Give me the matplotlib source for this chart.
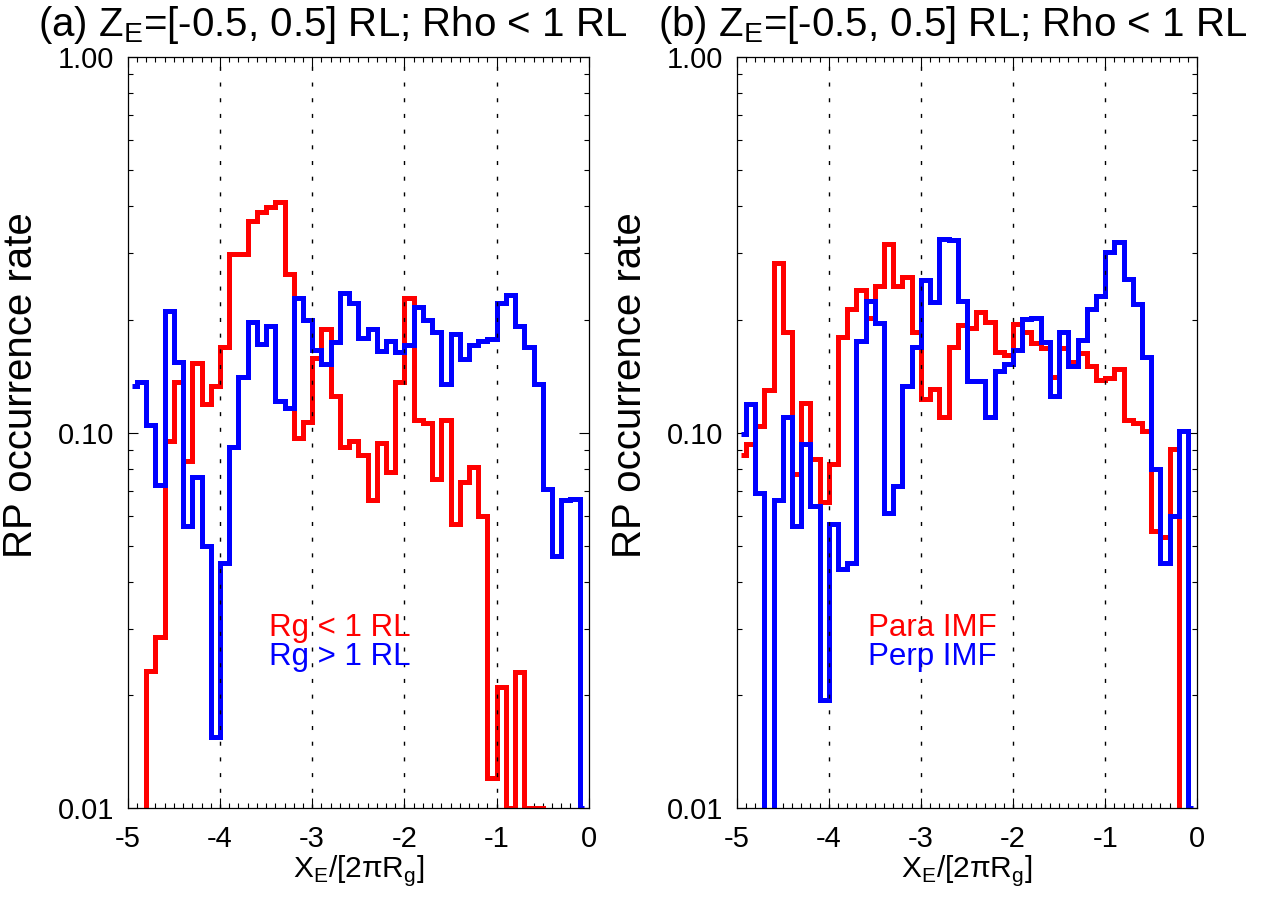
import numpy as np
import matplotlib
matplotlib.use("Agg")
import matplotlib.pyplot as plt
from matplotlib.ticker import MultipleLocator, FixedLocator, FixedFormatter, NullFormatter

plt.rcParams['font.family'] = ['Liberation Sans', 'DejaVu Sans']
plt.rcParams['mathtext.fontset'] = 'custom'
plt.rcParams['mathtext.rm'] = 'Liberation Sans'
plt.rcParams['axes.unicode_minus'] = False

# histogram bin centres, X_E / [2 pi Rg]
x_centers = np.round(np.linspace(-4.95, -0.05, 50), 2)

# (a) split by gyroradius
rg_lt_1 = [0, 0, 0.0232, 0.0286, 0.095, 0.136, 0.084, 0.153, 0.119, 0.133,
           0.169, 0.299, 0.298, 0.367, 0.387, 0.399, 0.411, 0.264, 0.097, 0.107,
           0.158, 0.189, 0.125, 0.0915, 0.0948, 0.0871, 0.066, 0.094, 0.0783, 0.136,
           0.228, 0.108, 0.106, 0.075, 0.108, 0.057, 0.074, 0.081, 0.060, 0.012,
           0.021, 0.010, 0.023, 0.010, 0.010, 0, 0, 0, 0, 0]
rg_gt_1 = [0.133, 0.136, 0.105, 0.0726, 0.211, 0.154, 0.0563, 0.0763, 0.050, 0.0155,
           0.045, 0.0916, 0.141, 0.197, 0.172, 0.192, 0.121, 0.116, 0.228, 0.199,
           0.166, 0.152, 0.174, 0.236, 0.221, 0.179, 0.189, 0.165, 0.175, 0.164,
           0.171, 0.216, 0.199, 0.185, 0.135, 0.183, 0.157, 0.171, 0.175, 0.178,
           0.221, 0.232, 0.192, 0.169, 0.135, 0.0709, 0.047, 0.0662, 0.0667, 0.010]

# (b) split by IMF orientation
para_imf = [0.087, 0.093, 0.104, 0.130, 0.282, 0.185, 0.0777, 0.120, 0.085, 0.0655,
            0.0827, 0.180, 0.213, 0.239, 0.202, 0.245, 0.318, 0.245, 0.260, 0.185,
            0.123, 0.131, 0.110, 0.169, 0.193, 0.190, 0.210, 0.197, 0.164, 0.161,
            0.195, 0.185, 0.173, 0.168, 0.141, 0.168, 0.154, 0.163, 0.150, 0.138,
            0.140, 0.148, 0.108, 0.106, 0.101, 0.0548, 0.0527, 0.0905, 0, 0]
perp_imf = [0.0994, 0.119, 0.0692, 0, 0.0662, 0.110, 0.0563, 0.0933, 0.0639, 0.0194,
            0.0569, 0.0434, 0.0448, 0.175, 0.224, 0.196, 0.0609, 0.072, 0.133, 0.169,
            0.255, 0.222, 0.328, 0.326, 0.224, 0.137, 0.137, 0.110, 0.146, 0.152,
            0.166, 0.201, 0.202, 0.174, 0.125, 0.185, 0.150, 0.176, 0.213, 0.231,
            0.302, 0.321, 0.256, 0.220, 0.159, 0.080, 0.045, 0.060, 0.101, 0.010]

panel_titles = ['(a) Z$_\\mathregular{E}$=[-0.5, 0.5] RL; Rho < 1 RL',
                '(b) Z$_\\mathregular{E}$=[-0.5, 0.5] RL; Rho < 1 RL']
panel_series = [(rg_lt_1, rg_gt_1), (para_imf, perp_imf)]
panel_labels = [('Rg < 1 RL', 'Rg > 1 RL'), ('Para IMF', 'Perp IMF')]
x_ticks = [-5, -4, -3, -2, -1, 0]
y_ticks = [0.01, 0.1, 1.0]
y_ticklabels = ['0.01', '0.10', '1.00']
grid_x = [-4, -3, -2, -1]


def idl_edges(xc):
    # psym=10 style: half bins at both ends
    mid = (xc[:-1] + xc[1:]) / 2
    return np.concatenate([[xc[0]], mid, [xc[-1]]])


fig = plt.figure(figsize=(12.71, 9.0), dpi=100)
axes = [fig.add_axes([0.1005, 0.1022, 0.3628, 0.8344]),
        fig.add_axes([0.5796, 0.1022, 0.3624, 0.8344])]

edges = idl_edges(x_centers)
title_x = [0.444, 0.469]
legend_x = [0.306, 0.285]
for ax, title, (red_vals, blue_vals), (lab_r, lab_b), tx, lx in zip(
        axes, panel_titles, panel_series, panel_labels, title_x, legend_x):
    ax.set_yscale('log')
    ax.stairs(red_vals, edges, color='red', lw=3.6, baseline=None, zorder=2)
    ax.stairs(blue_vals, edges, color='blue', lw=3.6, baseline=None, zorder=2)
    for gx in grid_x:
        ax.axvline(gx, color='black', lw=1.0, ls=(0, (2.9, 8.4)), zorder=3)

    ax.set_xlim(-5, 0)
    ax.set_ylim(0.01, 1.0)
    ax.xaxis.set_major_locator(FixedLocator(x_ticks))
    ax.xaxis.set_minor_locator(MultipleLocator(0.1))
    ax.yaxis.set_major_locator(FixedLocator(y_ticks))
    ax.yaxis.set_major_formatter(FixedFormatter(y_ticklabels))
    ax.yaxis.set_minor_locator(FixedLocator(
        [m * d for d in (0.01, 0.1) for m in range(2, 10)]))
    ax.yaxis.set_minor_formatter(NullFormatter())
    ax.tick_params(which='both', direction='in', top=True, right=True,
                   labelsize=21, width=0.8)
    ax.tick_params(which='major', length=7.5)
    ax.tick_params(which='minor', length=3.8)
    ax.tick_params(axis='x', pad=12)
    ax.tick_params(axis='y', pad=10)
    for sp in ax.spines.values():
        sp.set_linewidth(0.9)

    ax.text(tx, 1.028, title, transform=ax.transAxes, ha='center',
            va='baseline', fontsize=29)
    ax.set_xlabel('X$_\\mathregular{E}$/[2\u03c0R$_\\mathregular{g}$]', fontsize=21.5)
    ax.set_ylabel('RP occurrence rate', fontsize=29)
    ax.yaxis.set_label_coords(-0.19, 0.563)
    ax.xaxis.set_label_coords(0.5, -0.06)

    ax.text(lx, 0.24, lab_r, color='red', transform=ax.transAxes,
            va='center', fontsize=22.5)
    ax.text(lx, 0.201, lab_b, color='blue', transform=ax.transAxes,
            va='center', fontsize=22.5)

fig.savefig('out.png', dpi=100)
